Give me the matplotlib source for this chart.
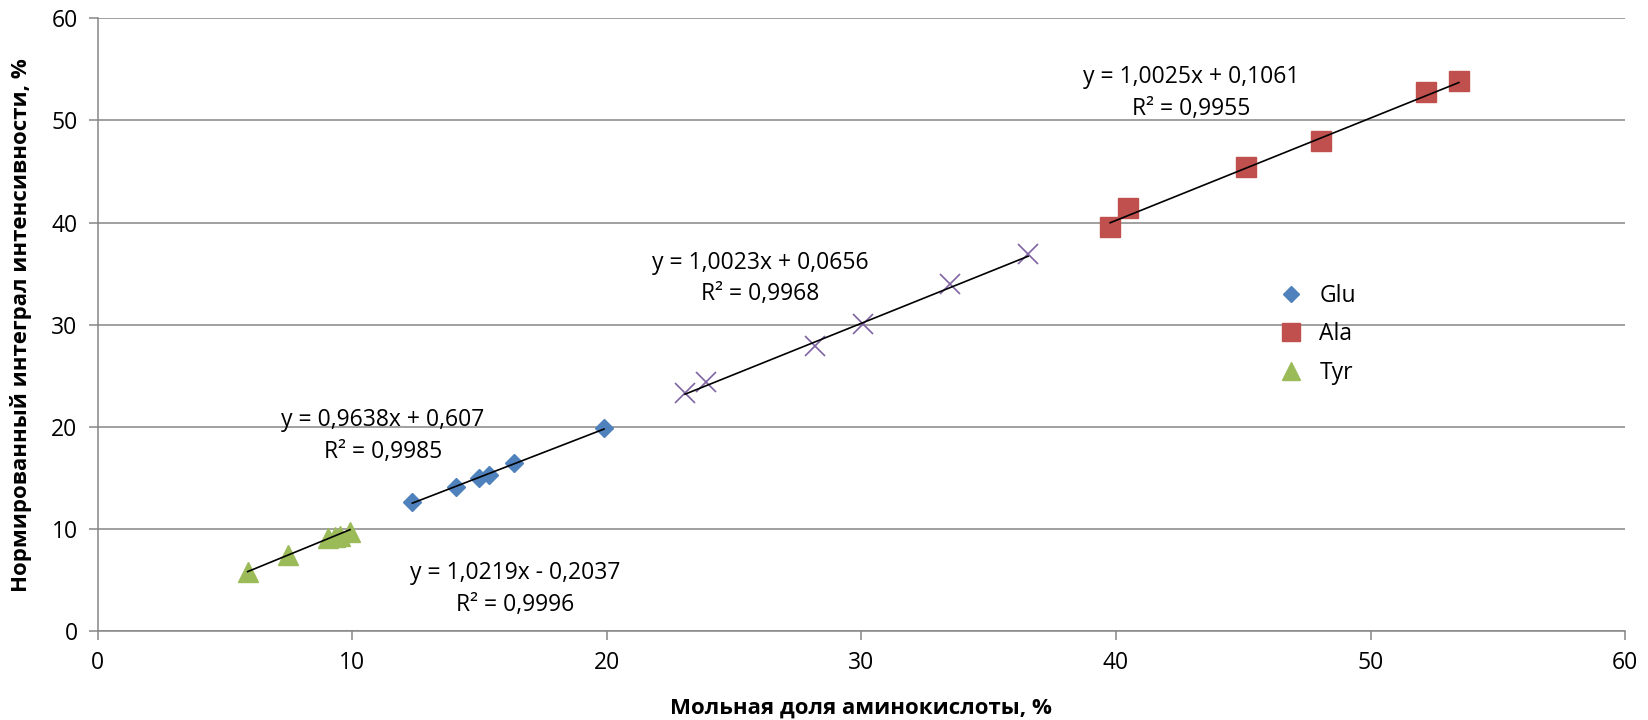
import numpy as np
import matplotlib
matplotlib.use("Agg")
import matplotlib.pyplot as plt

plt.rcParams['font.family'] = ['Open Sans', 'DejaVu Sans']

# данные
glu_x = [12.36, 14.07, 14.99, 15.38, 16.36, 19.89]
glu_y = [12.66, 14.13, 14.95, 15.28, 16.42, 19.91]

ala_x = [39.77, 40.48, 45.09, 48.07, 52.17, 53.47]
ala_y = [39.60, 41.40, 45.42, 48.02, 52.76, 53.87]

tyr_x = [5.89, 7.49, 9.06, 9.32, 9.52, 9.91]
tyr_y = [5.75, 7.44, 9.08, 9.24, 9.30, 9.73]

mix_x = [23.07, 23.89, 28.17, 30.07, 33.48, 36.55]
mix_y = [23.28, 24.42, 27.94, 30.07, 33.96, 36.90]

# коэффициенты линий тренда (наклон, сдвиг)
glu_fit = (0.9638, 0.607)
ala_fit = (1.0025, 0.1061)
tyr_fit = (1.0219, -0.2037)
mix_fit = (1.0023, 0.0656)

glu_eq = ["y = 0,9638x + 0,607", "R² = 0,9985"]
ala_eq = ["y = 1,0025x + 0,1061", "R² = 0,9955"]
tyr_eq = ["y = 1,0219x - 0,2037", "R² = 0,9996"]
mix_eq = ["y = 1,0023x + 0,0656", "R² = 0,9968"]

x_ticks = [0, 10, 20, 30, 40, 50, 60]
y_ticks = [0, 10, 20, 30, 40, 50, 60]

fig = plt.figure(figsize=(16.48, 7.2), dpi=100)
ax = fig.add_axes([0.0593, 0.1236, 0.9268, 0.851])

grid_c = '#868686'
ax.set_xlim(0, 60)
ax.set_ylim(0, 60)
ax.set_xticks(x_ticks)
ax.set_yticks(y_ticks)
ax.yaxis.grid(True, color=grid_c, linewidth=1.1)
ax.set_axisbelow(True)
for s in ['top', 'right']:
    ax.spines[s].set_visible(False)
for s in ['left', 'bottom']:
    ax.spines[s].set_color(grid_c)
    ax.spines[s].set_linewidth(1.1)
ax.tick_params(axis='both', direction='out', length=6.5, width=1.1, color=grid_c,
               labelsize=16.5, pad=8)

ax.plot(glu_x, glu_y, linestyle='none', marker='D', ms=9.5, color='#4F81BD', label='Glu')
ax.plot(ala_x, ala_y, linestyle='none', marker='s', ms=14, color='#C0504D', label='Ala')
ax.plot(tyr_x, tyr_y, linestyle='none', marker='^', ms=14, color='#9BBB59', label='Tyr')
ax.plot(mix_x, mix_y, linestyle='none', marker='x', ms=14, mew=1.2, color='#8064A2')

for xs, fit in [(glu_x, glu_fit), (ala_x, ala_fit), (tyr_x, tyr_fit), (mix_x, mix_fit)]:
    xx = np.array([min(xs), max(xs)])
    ax.plot(xx, fit[0] * xx + fit[1], color='black', linewidth=1.2, zorder=5)

def eq_text(x, y, lines):
    ax.text(x, y, "\n".join(lines), ha='center', va='center', fontsize=16.5,
            linespacing=1.42)

eq_text(11.2, 19.1, glu_eq)
eq_text(42.97, 52.7, ala_eq)
eq_text(16.39, 4.1, tyr_eq)
eq_text(26.04, 34.5, mix_eq)

ax.legend(loc='center left', bbox_to_anchor=(0.7675, 0.484), frameon=False, fontsize=16.5,
          handletextpad=0.75, labelspacing=0.62, borderaxespad=0, handlelength=1.0,
          markerscale=0.9)

ax.set_xlabel('Мольная доля аминокислоты, %', fontsize=16, fontweight='bold', labelpad=16)
ax.set_ylabel('Нормированный интеграл интенсивности, %', fontsize=16, fontweight='bold',
              labelpad=14)

fig.savefig('out.png', dpi=100)
